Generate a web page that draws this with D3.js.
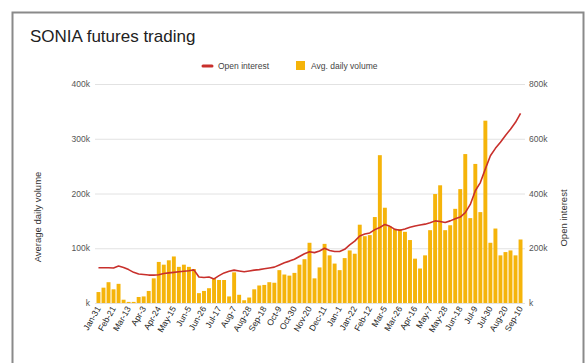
<!DOCTYPE html>
<html>
<head>
<meta charset="utf-8">
<script src="https://cdn.jsdelivr.net/npm/d3@7"></script>
<style>
  html, body { margin: 0; padding: 0; background: #fff; }
  svg { display: block; font-family: Arial, "Liberation Sans", sans-serif; }
</style>
</head>
<body>
<svg id="chart" width="585" height="363"></svg>
<script>
// Weekly week-ending dates, Jan 2020 – Sep 2021
const weeks = [
  "Jan-31","Feb-7","Feb-14","Feb-21","Feb-28","Mar-6","Mar-13","Mar-20","Mar-27",
  "Apr-3","Apr-10","Apr-17","Apr-24","May-1","May-8","May-15","May-22","May-29",
  "Jun-5","Jun-12","Jun-19","Jun-26","Jul-3","Jul-10","Jul-17","Jul-24","Jul-31",
  "Aug-7","Aug-14","Aug-21","Aug-28","Sep-4","Sep-11","Sep-18","Sep-25","Oct-2",
  "Oct-9","Oct-16","Oct-23","Oct-30","Nov-6","Nov-13","Nov-20","Nov-27","Dec-4",
  "Dec-11","Dec-18","Dec-25",
  "Jan-1","Jan-8","Jan-15","Jan-22","Jan-29","Feb-5","Feb-12","Feb-19","Feb-26",
  "Mar-5","Mar-12","Mar-19","Mar-26","Apr-2","Apr-9","Apr-16","Apr-23","Apr-30",
  "May-7","May-14","May-21","May-28","Jun-4","Jun-11","Jun-18","Jun-25","Jul-2",
  "Jul-9","Jul-16","Jul-23","Jul-30","Aug-6","Aug-13","Aug-20","Aug-27","Sep-3",
  "Sep-10"
];

// Average daily volume (thousands of contracts)
const avgDailyVolume = [
  20, 28, 38, 25, 35, 6, 2, 2, 11, 12, 22, 45, 75, 70, 78, 85, 66, 70, 66, 62,
  18, 22, 27, 45, 42, 42, 12, 56, 15, 5, 10, 25, 32, 33, 38, 37, 60, 52, 50, 55,
  70, 80, 110, 45, 65, 108, 87, 72, 60, 82, 96, 90, 143, 122, 124, 157, 270, 174,
  140, 135, 135, 130, 115, 81, 63, 87, 133, 199, 215, 133, 142, 172, 208, 272,
  155, 254, 166, 333, 110, 136, 87, 93, 96, 87, 116
];

// Open interest (thousands of contracts)
const openInterest = [
  129, 129, 129, 128, 135, 130, 122, 112, 106, 104, 102, 102, 103, 108, 110, 112,
  114, 116, 118, 121, 95, 93, 95, 88, 100, 110, 116, 120, 117, 114, 117, 120, 122,
  125, 128, 131, 139, 147, 153, 160, 170, 180, 187, 184, 190, 200, 192, 188, 188,
  196, 212, 226, 245, 252, 256, 268, 276, 287, 280, 269, 266, 270, 277, 281, 285,
  288, 293, 300, 298, 294, 300, 308, 314, 330, 360, 410, 440, 490, 538, 565, 587,
  612, 635, 660, 693
];

const volumeTicks = [0, 100, 200, 300, 400];
const interestTicks = [0, 200, 400, 600, 800];
const labelEvery = 3;

const chartTitle = "SONIA futures trading";
const seriesNames = ["Open interest", "Avg. daily volume"];
const leftTitle = "Average daily volume";
const rightTitle = "Open interest";

const colors = { line: "#c8302c", bar: "#f5b40a", grid: "#e2e2e2", text: "#333" };

const svg = d3.select("#chart");
const plot = { left: 96, right: 523, top: 84, bottom: 303 };

// Outer frame
svg.append("rect")
  .attr("x", 12.5).attr("y", 12.5)
  .attr("width", 571).attr("height", 362)
  .attr("fill", "#fff").attr("stroke", "#8a8a8a").attr("stroke-width", 2);

const x = d3.scaleBand()
  .domain(d3.range(weeks.length))
  .range([plot.left, plot.right])
  .paddingInner(0.22).paddingOuter(0.1);

const yL = d3.scaleLinear().domain([0, 400]).range([plot.bottom, plot.top]);
const yR = d3.scaleLinear().domain([0, 800]).range([plot.bottom, plot.top]);

const fmtK = d => (d === 0 ? "" : d) + "k";

// Gridlines
svg.append("g")
  .selectAll("line")
  .data(volumeTicks)
  .join("line")
  .attr("x1", plot.left - 1).attr("x2", plot.right + 2)
  .attr("y1", d => yL(d) + 0.5).attr("y2", d => yL(d) + 0.5)
  .attr("stroke", colors.grid).attr("stroke-width", 1);

// Left axis
const leftAxis = svg.append("g")
  .attr("transform", `translate(${plot.left - 6},0)`)
  .call(d3.axisLeft(yL).tickValues(volumeTicks).tickFormat(fmtK).tickSize(0).tickPadding(0));
leftAxis.select(".domain").remove();
leftAxis.selectAll("text")
  .attr("font-size", 8.5).attr("fill", "#555")
  .attr("font-family", "Arial, 'Liberation Sans', sans-serif");

// Right axis
const rightAxis = svg.append("g")
  .attr("transform", `translate(${plot.right + 6},0)`)
  .call(d3.axisRight(yR).tickValues(interestTicks).tickFormat(fmtK).tickSize(0).tickPadding(0));
rightAxis.select(".domain").remove();
rightAxis.selectAll("text")
  .attr("font-size", 8.5).attr("fill", "#555")
  .attr("font-family", "Arial, 'Liberation Sans', sans-serif");

// Bars: average daily volume
svg.append("g")
  .selectAll("rect")
  .data(avgDailyVolume)
  .join("rect")
  .attr("x", (d, i) => x(i))
  .attr("width", x.bandwidth())
  .attr("y", d => yL(d))
  .attr("height", d => yL(0) - yL(d))
  .attr("fill", colors.bar);

// Line: open interest
const line = d3.line()
  .x((d, i) => x(i) + x.bandwidth() / 2)
  .y(d => yR(d));
svg.append("path")
  .datum(openInterest)
  .attr("d", line)
  .attr("fill", "none")
  .attr("stroke", colors.line)
  .attr("stroke-width", 1.6)
  .attr("stroke-linejoin", "round");

// X-axis labels (every third week)
const bottomAxis = svg.append("g")
  .attr("transform", `translate(0,${plot.bottom + 4})`)
  .call(d3.axisBottom(x)
    .tickValues(d3.range(0, weeks.length, labelEvery))
    .tickFormat(i => weeks[i])
    .tickSize(0).tickPadding(0));
bottomAxis.select(".domain").remove();
bottomAxis.selectAll("text")
  .attr("font-size", 8.5).attr("fill", "#222")
  .attr("font-family", "Arial, 'Liberation Sans', sans-serif")
  .attr("text-anchor", "end")
  .attr("dy", "0.35em")
  .attr("transform", "rotate(-60)");

// Title
svg.append("text")
  .attr("x", 30).attr("y", 42)
  .attr("font-size", 17).attr("fill", "#222")
  .text(chartTitle);

// Legend
const legend = svg.append("g").attr("font-size", 8.5).attr("fill", "#444");
legend.append("line")
  .attr("x1", 203).attr("x2", 212).attr("y1", 66).attr("y2", 66)
  .attr("stroke", colors.line).attr("stroke-width", 3).attr("stroke-linecap", "round");
legend.append("text").attr("x", 218).attr("y", 69).text(seriesNames[0]);
legend.append("rect")
  .attr("x", 296).attr("y", 61).attr("width", 9).attr("height", 9)
  .attr("fill", colors.bar);
legend.append("text").attr("x", 311).attr("y", 69).text(seriesNames[1]);

// Axis titles
svg.append("text")
  .attr("transform", "translate(41,217) rotate(-90)")
  .attr("text-anchor", "middle")
  .attr("font-size", 9.5).attr("fill", "#333")
  .text(leftTitle);
svg.append("text")
  .attr("transform", "translate(567,218) rotate(-90)")
  .attr("text-anchor", "middle")
  .attr("font-size", 9.5).attr("fill", "#333")
  .text(rightTitle);
</script>
</body>
</html>
